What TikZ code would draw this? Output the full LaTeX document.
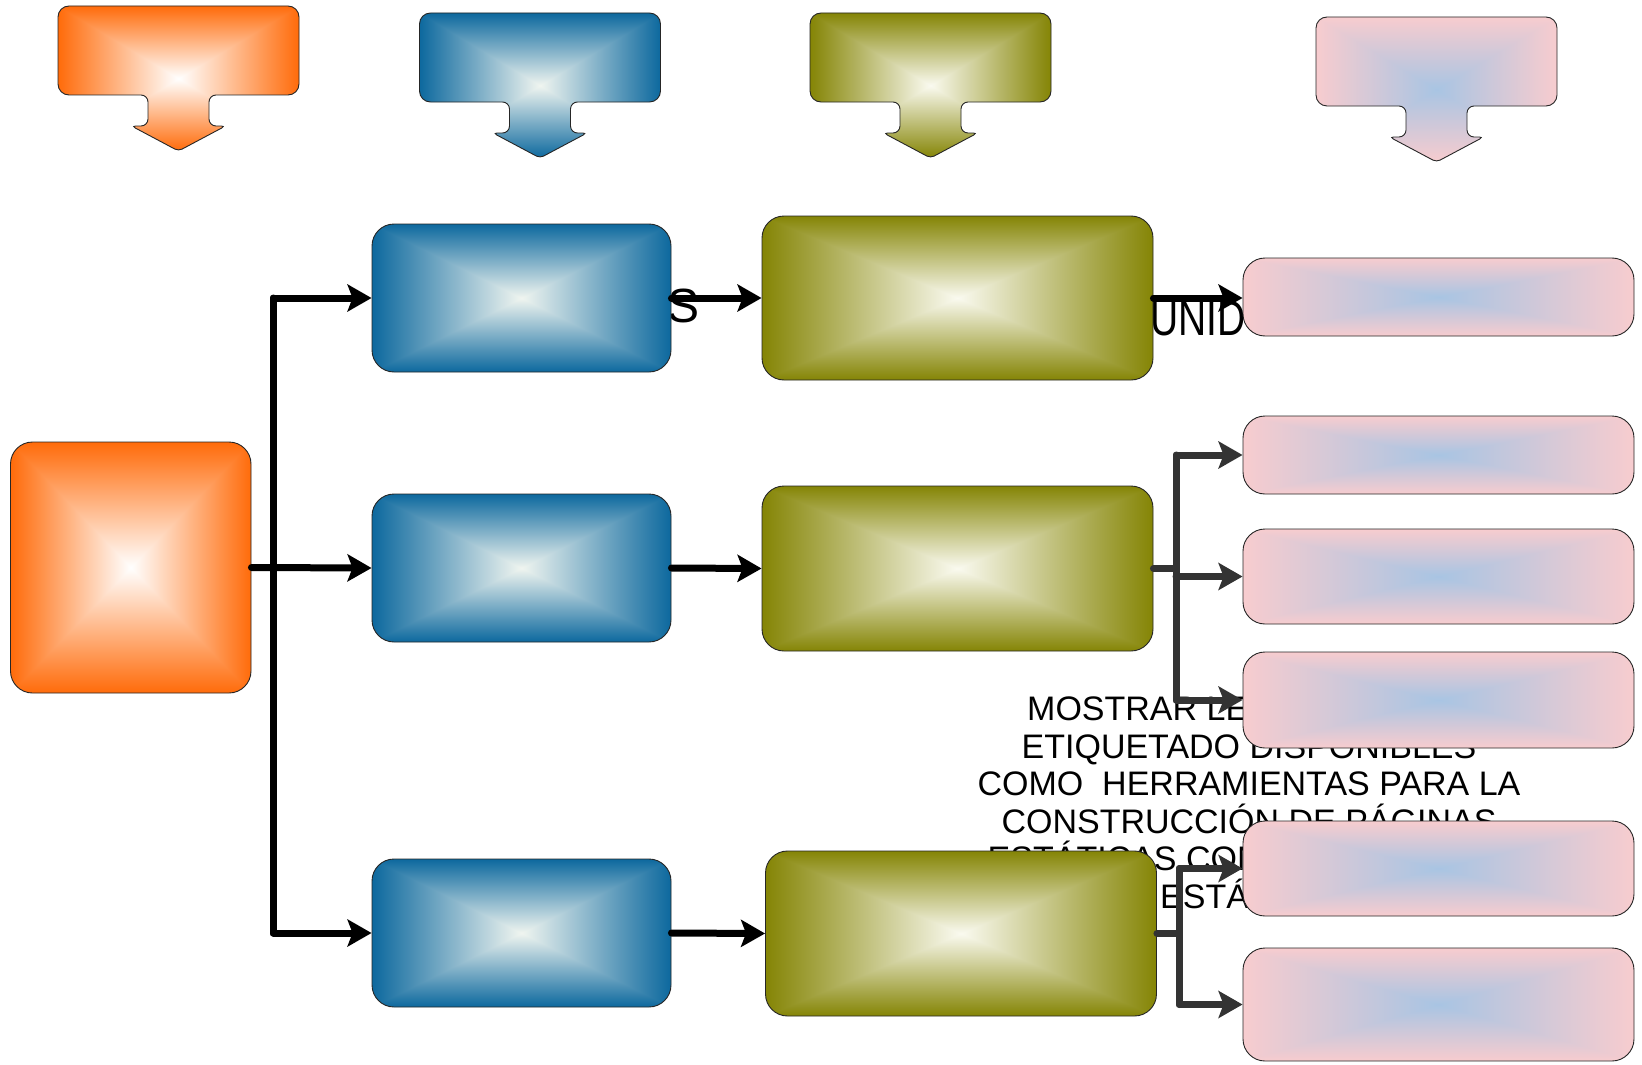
\documentclass[tikz,border=0pt]{standalone}
\usepackage{fontspec}
\setmainfont{Liberation Sans}
\usepackage{graphicx}
\usetikzlibrary{arrows.meta}

\newcommand\mkpyr[7]{%
  \pgfdeclarefunctionalshading{#1}{\pgfpointorigin}{\pgfpoint{100bp}{100bp}}{}{%
    50 sub abs exch 50 sub abs 2 copy sub abs add add 2 div 25 div
    dup 1 sub abs neg 1 add add 2 div
    dup #5 #2 sub mul #2 add
    exch dup #6 #3 sub mul #3 add
    exch #7 #4 sub mul #4 add
  }}
\mkpyr{pyrorange}{1}{1}{1}{1}{0.42}{0.04}
\mkpyr{pyrblue}{0.94}{0.96}{0.94}{0.05}{0.41}{0.62}
\mkpyr{pyrolive}{0.98}{0.98}{0.94}{0.52}{0.52}{0.02}
\mkpyr{pyrpink}{0.66}{0.77}{0.89}{0.97}{0.80}{0.81}

\newcommand\callout[3]{% cx, top, shading
  \path[callst,shading=#3,rounded corners=11pt]
    ({#1-120.5},#2) -- ({#1+120.5},#2) -- ({#1+120.5},{#2+89})
    [rounded corners=7pt] -- ({#1+30.5},{#2+89}) -- ({#1+30.5},{#2+120})
    [rounded corners=4pt] -- ({#1+47},{#2+120}) -- (#1,{#2+145}) -- ({#1-47},{#2+120})
    [rounded corners=7pt] -- ({#1-30.5},{#2+120}) -- ({#1-30.5},{#2+89})
    [rounded corners=11pt] -- ({#1-120.5},{#2+89}) -- cycle;}

\begin{document}
\begin{tikzpicture}[x=1pt,y=-1pt,
  rbox/.style={draw=black!85,line width=0.9pt,shade,inner sep=0pt,rounded corners=22pt},
  orgbox/.style={rbox,shading=pyrorange,minimum width=240.5pt,minimum height=251pt},
  blubox/.style={rbox,shading=pyrblue,minimum width=299pt,minimum height=148pt},
  olvbox/.style={rbox,shading=pyrolive,minimum width=391pt,minimum height=165pt},
  pnkbox/.style={rbox,shading=pyrpink,minimum width=391pt},
  callst/.style={draw=black!85,line width=0.9pt,shade},
  conn/.style={line width=7pt,line cap=round,line join=round,-{Stealth[length=24pt,width=27pt,inset=5pt]}},
  gconn/.style={conn,draw=black!80},
  gline/.style={line width=7pt,line cap=round,draw=black!80},
  txt/.style={inner sep=0pt,font=\fontsize{34}{37.5}\selectfont},
]
\useasboundingbox (0,0) rectangle (1642,1065);

% header callouts
\callout{178.5}{6}{pyrorange}
\callout{540}{13}{pyrblue}
\callout{930.5}{13}{pyrolive}
\callout{1436.5}{17}{pyrpink}

% texts partly hidden behind boxes
\node[inner sep=0pt,anchor=base west,font=\fontsize{48}{48}\selectfont] (ts) at (667.5,322) {S};
\node[inner sep=0pt,anchor=base west,font=\fontsize{50}{50}\selectfont] (tu) at (1150,335) {\scalebox{0.78}[1]{UNID}};
\node[txt,anchor=base west] (l1) at (1027,720.5) {MOSTRAR LE};
\node[txt,anchor=base] (l2) at (1249,758) {ETIQUETADO DISPONIBLES};
\node[txt,anchor=base] (l3) at (1249,795.5) {COMO\ \ HERRAMIENTAS PARA LA};
\node[txt,anchor=base] (l4) at (1249,833) {CONSTRUCCIÓN DE PÁGINAS};
\node[txt,anchor=base west] (l5) at (987.5,870.5) {ESTÁTICAS CON};
\node[txt,anchor=base west] (l6) at (1160,908) {ESTÁ};

% boxes
\node[orgbox] (o) at (130.75,567.5) {};
\node[blubox] (b1) at (521.5,298) {};
\node[blubox] (b2) at (521.5,568) {};
\node[blubox] (b3) at (521.5,933) {};
\node[olvbox,minimum height=164pt] (v1) at (957.5,298) {};
\node[olvbox] (v2) at (957.5,568.5) {};
\node[olvbox] (v3) at (961,933.5) {};
\node[pnkbox,minimum height=78pt] (p1) at (1438.5,297) {};
\node[pnkbox,minimum height=78pt] (p2) at (1438.5,455) {};
\node[pnkbox,minimum height=95pt] (p3) at (1438.5,576.5) {};
\node[pnkbox,minimum height=96pt] (p4) at (1438.5,700) {};
\node[pnkbox,minimum height=95pt] (p5) at (1438.5,868.5) {};
\node[pnkbox,minimum height=113pt] (p6) at (1438.5,1004.5) {};

% connectors
\coordinate (tk) at (273,0);
\draw[conn] (o.east) -- (b2.west);
\draw[conn] (tk |- b3.west) -- (tk |- b1.west) -- (b1.west);
\draw[conn] (tk |- b1.west) -- (tk |- b3.west) -- (b3.west);
\draw[conn] (b1.east) -- (v1.west);
\draw[conn] (b2.east) -- (v2.west);
\draw[conn] (b3.east) -- (v3.west);
\draw[conn] (v1.east) -- (v1.east -| p1.west);

\coordinate (tk2) at (1176,0);
\draw[gline] (v2.east) -- (tk2 |- v2.east);
\draw[gconn] (tk2 |- p4.west) -- (tk2 |- p2.west) -- (p2.west);
\draw[gconn] (tk2 |- p2.west) -- (tk2 |- p4.west) -- (p4.west);
\draw[gconn] (tk2 |- p3.west) -- (p3.west);

\coordinate (tk3) at (1179,0);
\draw[gline] (v3.east) -- (tk3 |- v3.east);
\draw[gconn] (tk3 |- p6.west) -- (tk3 |- p5.west) -- (p5.west);
\draw[gconn] (tk3 |- p5.west) -- (tk3 |- p6.west) -- (p6.west);
\end{tikzpicture}
\end{document}
